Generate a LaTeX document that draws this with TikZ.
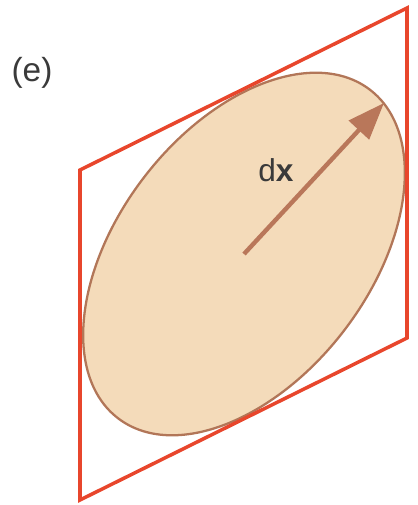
\documentclass[tikz,border=0pt]{standalone}
\usepackage{fontspec}
\setmainfont{Liberation Sans}
\usetikzlibrary{arrows.meta}
\definecolor{framered}{HTML}{E8462C}
\definecolor{blobfill}{HTML}{F4DBBA}
\definecolor{blobedge}{HTML}{B27658}
\definecolor{vecbrown}{HTML}{B9775A}
\definecolor{inkgray}{HTML}{3A3A3A}
\begin{document}
\begin{tikzpicture}[x=0.02cm, y=0.02cm, every node/.style={text=inkgray}]
  \useasboundingbox (0,0) rectangle (418,505);

  \coordinate (tl) at (80,335);
  \coordinate (tr) at (407,497);
  \coordinate (br) at (407,167);
  \coordinate (bl) at (80,5);
  \coordinate (ctr) at (244,251);
  \coordinate (tip) at (384,402);

  % Inscribed ellipse
  \draw[blobedge, fill=blobfill, line width=1.3pt, rotate around={52.5:(ctr)}]
    (ctr) ellipse [x radius=207, y radius=126];

  % Vector dx
  \draw[vecbrown, line width=2.5pt, -{Triangle[length=0.74cm, width=0.54cm]}] (ctr) -- (tip);

  % Parallelogram frame
  \draw[framered, line width=2pt, line join=miter] (tl) -- (tr) -- (br) -- (bl) -- cycle;

  \node[font=\fontsize{19}{22}\selectfont] (tag) at (32,432) {(e)};
  \node[anchor=base, font=\fontsize{18}{21}\selectfont] (dxlbl) at (276,323) {d\textbf{x}};
\end{tikzpicture}
\end{document}
